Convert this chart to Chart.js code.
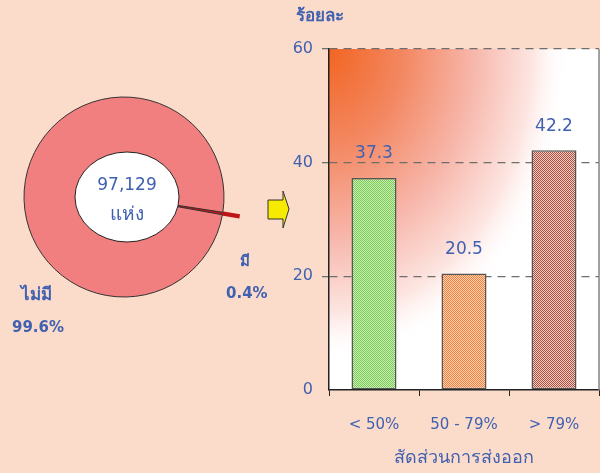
<!DOCTYPE html>
<html>
<head>
<meta charset="utf-8">
<script src="https://cdn.jsdelivr.net/npm/chart.js@4"></script>
<style>
  html, body { margin: 0; padding: 0; }
  body { width: 600px; height: 473px; background: #fbdccb; position: relative; overflow: hidden; }
  #pieBox { position: absolute; left: 0; top: 0; width: 300px; height: 473px; }
  #barBox { position: absolute; left: 290px; top: 0; width: 310px; height: 473px; }
</style>
</head>
<body>
<div id="pieBox"><canvas id="pieChart"></canvas></div>
<div id="barBox"><canvas id="barChart"></canvas></div>
<script>
// pie data
const pieLabels = ["มี", "ไม่มี"];
const pieValues = [0.4, 99.6];
const centerLines = ["97,129", "แห่ง"];

// bar data
const barLabels = ["< 50%", "50 - 79%", "> 79%"];
const barValues = [37.3, 20.5, 42.2];
const yTicks = [0, 20, 40, 60];
const yTitle = "ร้อยละ";
const xTitle = "สัดส่วนการส่งออก";

const blue = "#4060b0";
const font = "'DejaVu Sans', sans-serif";
Chart.defaults.font.family = font;
Chart.defaults.color = blue;

function checker(c1, c2) {
  const p = document.createElement("canvas");
  p.width = 2; p.height = 2;
  const g = p.getContext("2d");
  g.fillStyle = c1; g.fillRect(0, 0, 2, 2);
  g.fillStyle = c2; g.fillRect(0, 0, 1, 1); g.fillRect(1, 1, 1, 1);
  return document.createElement("canvas").getContext("2d").createPattern(p, "repeat");
}

// ---------- pie ----------
const pieExtras = {
  id: "pieExtras",
  afterDatasetsDraw(chart) {
    const ctx = chart.ctx;
    const arc = chart.getDatasetMeta(0).data[1];
    const cx = arc.x + 3, cy = arc.y;
    ctx.save();
    // white centre
    ctx.beginPath();
    ctx.ellipse(cx, cy, 52, 45, 0, 0, Math.PI * 2);
    ctx.fillStyle = "#fff";
    ctx.fill();
    ctx.lineWidth = 1;
    ctx.strokeStyle = "#222";
    ctx.stroke();
    ctx.fillStyle = blue;
    ctx.textAlign = "center";
    ctx.textBaseline = "middle";
    ctx.font = "17px " + font;
    ctx.fillText(centerLines[0], cx, cy - 11);
    ctx.font = "19px " + font;
    ctx.fillText(centerLines[1], cx, cy + 18);
    // slice labels
    ctx.font = "bold 15px " + font;
    ctx.textAlign = "left";
    ctx.fillText(pieLabels[0], 240, 262);
    ctx.fillText(pieValues[0] + "%", 226, 294);
    ctx.font = "bold 17px " + font;
    ctx.fillText(pieLabels[1], 21, 296);
    ctx.font = "bold 15px " + font;
    ctx.fillText(pieValues[1] + "%", 12, 328);
    // yellow arrow
    ctx.beginPath();
    ctx.moveTo(268, 200);
    ctx.lineTo(283, 200);
    ctx.lineTo(283, 191);
    ctx.lineTo(289, 209);
    ctx.lineTo(283, 228);
    ctx.lineTo(283, 219);
    ctx.lineTo(268, 219);
    ctx.closePath();
    ctx.fillStyle = "#f5ea00";
    ctx.fill();
    ctx.strokeStyle = "#333";
    ctx.stroke();
    ctx.restore();
  }
};

new Chart("pieChart", {
  type: "pie",
  data: {
    labels: pieLabels,
    datasets: [{
      data: pieValues,
      backgroundColor: ["#ee2020", "#f27f7f"],
      borderColor: ["#c01515", "#333"],
      borderWidth: [4, 1],
      borderJoinStyle: "miter",
      offset: [31, 0],
      hoverOffset: 0
    }]
  },
  options: {
    responsive: true,
    maintainAspectRatio: false,
    animation: false,
    rotation: 98.8,
    radius: 100,
    layout: { padding: { left: 0, top: 0, right: 52, bottom: 79 } },
    plugins: { legend: { display: false }, tooltip: { enabled: false } }
  },
  plugins: [pieExtras]
});

// ---------- bars ----------
const plotBack = {
  id: "plotBack",
  beforeDraw(chart) {
    const { ctx, chartArea: a } = chart;
    ctx.save();
    ctx.fillStyle = "#fff";
    ctx.fillRect(a.left, a.top, a.width, a.height);
    ctx.translate(a.left, a.top);
    ctx.scale(1, 1.3);
    const g = ctx.createRadialGradient(0, 0, 0, 0, 0, 240);
    g.addColorStop(0, "#f26522");
    g.addColorStop(0.3, "#f3865f");
    g.addColorStop(0.6, "#f7b6aa");
    g.addColorStop(0.85, "#fde6e2");
    g.addColorStop(1, "rgba(255,255,255,0)");
    ctx.fillStyle = g;
    ctx.fillRect(0, 0, a.width, a.height / 1.3);
    ctx.restore();
  },
  afterDraw(chart) {
    const { ctx, chartArea: a } = chart;
    ctx.save();
    ctx.strokeStyle = "#888";
    ctx.lineWidth = 1.5;
    ctx.beginPath();
    ctx.moveTo(a.right, a.top);
    ctx.lineTo(a.right, a.bottom);
    ctx.stroke();
    // value labels
    ctx.fillStyle = blue;
    ctx.font = "17px " + font;
    ctx.textAlign = "center";
    ctx.textBaseline = "middle";
    chart.getDatasetMeta(0).data.forEach((bar, i) => {
      ctx.fillText(barValues[i].toFixed(1), bar.x, bar.y - 24);
    });
    // y title
    ctx.font = "bold 17px " + font;
    ctx.textAlign = "left";
    ctx.fillText(yTitle, 6, 17);
    ctx.restore();
  }
};

new Chart("barChart", {
  type: "bar",
  data: {
    labels: barLabels,
    datasets: [{
      data: barValues,
      backgroundColor: [
        checker("#c8f0b0", "#7cc95a"),
        checker("#fcd2b4", "#f5803c"),
        checker("#ecd0c8", "#b24c3c")
      ],
      borderColor: "#555",
      borderWidth: 1.5,
      borderSkipped: false,
      barPercentage: 0.5,
      categoryPercentage: 1
    }]
  },
  options: {
    responsive: true,
    maintainAspectRatio: false,
    animation: false,
    layout: { padding: { left: 0, top: 49, right: 1, bottom: 0 } },
    plugins: { legend: { display: false }, tooltip: { enabled: false } },
    scales: {
      x: {
        afterFit: s => { s.height = 83; },
        grid: { drawOnChartArea: false, offset: true, tickLength: 6, color: "#222" },
        border: { color: "#222", width: 1.5 },
        ticks: { padding: 20, font: { size: 15 }, color: blue },
        title: { display: true, text: xTitle, color: blue, font: { size: 18 }, padding: { top: 6 } }
      },
      y: {
        min: 0,
        max: 60,
        afterFit: s => { s.width = 39; },
        afterBuildTicks: s => { s.ticks = yTicks.map(v => ({ value: v })); },
        grid: {
          tickLength: 7,
          color: c => (c.tick && c.tick.value === 0 ? "rgba(0,0,0,0)" : "#6e6e6e"),
          lineWidth: 1.3
        },
        border: { color: "#222", width: 1.5, dash: [8, 6] },
        ticks: { padding: 9, font: { size: 16 }, color: blue }
      }
    }
  },
  plugins: [plotBack]
});
</script>
</body>
</html>
